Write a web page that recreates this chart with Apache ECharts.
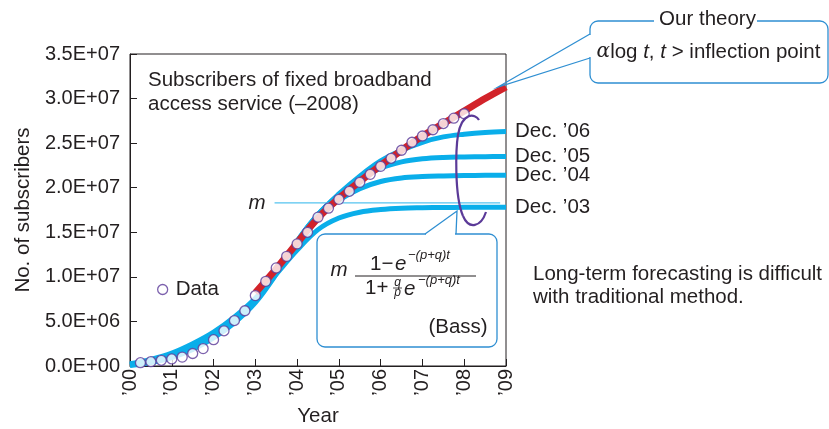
<!DOCTYPE html>
<html><head><meta charset="utf-8">
<script src="https://cdn.jsdelivr.net/npm/echarts@6/dist/echarts.min.js"></script>
<style>html,body{margin:0;padding:0;background:#fff}#c{width:829px;height:429px}</style>
</head><body><div id="c"></div>
<script>
// ---- data (values in millions of subscribers) ----
const yearLabels = ['’00','’01','’02','’03','’04','’05','’06','’07','’08','’09'];
const dataT = [0.25,0.5,0.75,1,1.25,1.5,1.75,2,2.25,2.5,2.75,3,3.25,3.5,3.75,4,4.25,4.5,4.75,5,5.25,5.5,5.75,6,6.25,6.5,6.75,7,7.25,7.5,7.75,8];
const dataV = [0.37,0.48,0.64,0.79,1.0,1.4,1.95,2.95,3.95,5.1,6.2,7.9,9.5,11.0,12.3,13.7,15.0,16.7,17.7,18.7,19.6,20.6,21.5,22.4,23.3,24.2,25.1,25.8,26.5,27.2,27.8,28.3];
const bassT = [0,0.5,1,1.5,2,2.5,3,3.5,4,4.5,5,5.5,6,6.5,7,7.5,8,8.5,9];
const bass03 = [0.25,0.75,1.45,2.5,3.8,5.5,7.6,10.3,13.0,15.3,16.6,17.25,17.55,17.7,17.75,17.78,17.8,17.81,17.82];
const bass04 = [0.15,0.6,1.25,2.25,3.55,5.25,7.4,10.4,13.9,16.7,18.6,19.9,20.7,21.1,21.25,21.32,21.37,21.39,21.4];
const bass05 = [0.1,0.5,1.1,2.05,3.35,5.05,7.25,10.4,14.0,17.0,19.2,21.0,22.2,22.9,23.25,23.4,23.45,23.48,23.5];
const bass06 = [0.05,0.4,0.95,1.85,3.15,4.85,7.1,10.3,14.0,17.0,19.3,21.3,23.0,24.2,25.1,25.7,26.0,26.2,26.3];
const theoryT = [3,3.5,4,4.5,5,5.5,6,6.5,7,7.5,8,8.5,9];
const theoryV = [8.2,10.9,13.8,16.6,18.8,20.7,22.5,24.2,25.8,27.2,28.6,30.0,31.3];
const mT = [3.46, 8.86];
const mV = [18.3, 18.3];
const curveNames = ['Dec. ’03','Dec. ’04','Dec. ’05','Dec. ’06'];

const M = 1e6;
const pairs = (ts, vs) => ts.map((t, i) => [t, vs[i] * M]);

const FONT = '"Liberation Sans", Arial, Helvetica, sans-serif';
const TXT = '#231f20';
const BLUE = '#0aaeea';
const RED = '#d2232a';
const PURPLE = '#5b3a98';
const CALL = '#2f8fd2';

function sci(v) {
  const parts = v.toExponential(1).split('e');
  const sign = parts[1][0];
  const d = parts[1].slice(1).padStart(2, '0');
  return parts[0] + 'E' + sign + d;
}

const bassSeries = [bass03, bass04, bass05, bass06].map((arr, i) => ({
  name: curveNames[i], type: 'line', data: pairs(bassT, arr),
  showSymbol: false, smooth: 0.35, z: 2,
  lineStyle: { color: BLUE, width: 5 }, itemStyle: { color: BLUE },
  endLabel: { show: true, formatter: '{a}', distance: 9, fontSize: 20.5, color: TXT, fontFamily: FONT },
  emphasis: { disabled: true }, silent: true
}));

const chart = echarts.init(document.getElementById('c'), null, { renderer: 'canvas' });
const txt = (text, x, y, opt) => Object.assign({ type: 'text', silent: true, z: 20,
  style: Object.assign({ text, x, y, font: '20.5px ' + FONT, fill: TXT, textAlign: 'left', textVerticalAlign: 'middle', align: 'left', verticalAlign: 'middle' }, opt || {}) });
const ctr = { textAlign: 'center', align: 'center' };

chart.setOption({
  animation: false,
  backgroundColor: '#fff',
  grid: { left: 130, right: 323, top: 54, bottom: 63, containLabel: false, outerBoundsMode: 'none',
    show: true, borderColor: TXT, borderWidth: 1, backgroundColor: 'transparent' },
  legend: {
    data: [{ name: 'Data', icon: 'circle', itemStyle: { color: '#fff', borderColor: PURPLE, borderWidth: 1.3 } }],
    left: 152, top: 274, itemWidth: 16, itemHeight: 10,
    textStyle: { fontSize: 20.5, color: TXT, fontFamily: FONT }, selectedMode: false
  },
  xAxis: {
    type: 'value', min: 0, max: 9, interval: 1,
    name: 'Year', nameLocation: 'middle', nameGap: 40,
    nameTextStyle: { fontSize: 20.5, color: TXT, fontFamily: FONT },
    axisLine: { show: true, lineStyle: { color: TXT, width: 1 } },
    axisTick: { show: true, inside: true, length: 7, lineStyle: { color: TXT } },
    axisLabel: { rotate: 90, margin: 3, fontSize: 20, color: TXT, fontFamily: FONT, formatter: v => yearLabels[Math.round(v)] },
    splitLine: { show: false }
  },
  yAxis: {
    type: 'value', min: 0, max: 3.5e7, interval: 5e6,
    name: 'No. of subscribers', nameLocation: 'middle', nameGap: 96,
    nameTextStyle: { fontSize: 20.5, color: TXT, fontFamily: FONT },
    axisLine: { show: true, lineStyle: { color: TXT, width: 1 } },
    axisTick: { show: true, inside: true, length: 7, lineStyle: { color: TXT } },
    axisLabel: { margin: 10, fontSize: 20, color: TXT, fontFamily: FONT, formatter: v => sci(v) },
    splitLine: { show: false }
  },
  series: bassSeries.concat([
    { name: 'm', type: 'line', data: pairs(mT, mV), showSymbol: false, z: 2, silent: true,
      lineStyle: { color: '#55c3ef', width: 1.2 }, emphasis: { disabled: true } },
    { name: 'Our theory', type: 'line', data: pairs(theoryT, theoryV), showSymbol: false, smooth: 0.35, z: 3, silent: true,
      lineStyle: { color: RED, width: 7 }, itemStyle: { color: RED }, emphasis: { disabled: true } },
    { name: 'Data', type: 'scatter', data: pairs(dataT, dataV), symbol: 'circle', symbolSize: 10, z: 4, silent: true,
      itemStyle: { color: '#fff', borderColor: PURPLE, borderWidth: 1.3 }, emphasis: { disabled: true } }
  ]),
  graphic: [
    txt('Subscribers of fixed broadband', 148, 80),
    txt('access service (–2008)', 148, 104),
    txt('m', 257, 203, Object.assign({ font: 'italic 20.5px ' + FONT }, ctr)),
    // Bass callout
    { type: 'rect', silent: true, z: 10, shape: { x: 317, y: 234, width: 180, height: 113, r: 8 }, style: { fill: '#fff', stroke: CALL, lineWidth: 1.3 } },
    { type: 'rect', silent: true, z: 11, shape: { x: 426, y: 231, width: 29, height: 6 }, style: { fill: '#fff', stroke: null } },
    { type: 'polyline', silent: true, z: 12, shape: { points: [[425, 234], [457, 211], [456, 234]] }, style: { fill: null, stroke: CALL, lineWidth: 1.3 } },
    txt('m', 339, 270, Object.assign({ font: 'italic 20.5px ' + FONT }, ctr)),
    txt('1−', 370, 264),
    txt('e', 395, 264, { font: 'italic 20.5px ' + FONT }),
    txt('−(p+q)t', 408, 255, { font: 'italic 13px ' + FONT }),
    { type: 'line', silent: true, z: 12, shape: { x1: 355, y1: 276, x2: 476, y2: 276 }, style: { stroke: TXT, lineWidth: 1 } },
    txt('1+', 365, 288),
    txt('q', 397.5, 283, Object.assign({ font: 'italic 12px ' + FONT }, ctr)),
    { type: 'line', silent: true, z: 12, shape: { x1: 393, y1: 288, x2: 402, y2: 288 }, style: { stroke: TXT, lineWidth: 0.8 } },
    txt('p', 397.5, 293, Object.assign({ font: 'italic 12px ' + FONT }, ctr)),
    txt('e', 404, 289, { font: 'italic 20.5px ' + FONT }),
    txt('−(p+q)t', 418, 280, { font: 'italic 13px ' + FONT }),
    txt('(Bass)', 458, 327.5, ctr),
    // Our theory callout
    { type: 'rect', silent: true, z: 10, shape: { x: 590, y: 21, width: 238, height: 62, r: 8 }, style: { fill: 'none', stroke: CALL, lineWidth: 1.3 } },
    { type: 'rect', silent: true, z: 11, shape: { x: 654, y: 18, width: 103, height: 6 }, style: { fill: '#fff', stroke: null } },
    { type: 'rect', silent: true, z: 11, shape: { x: 587, y: 35, width: 6, height: 22 }, style: { fill: '#fff', stroke: null } },
    { type: 'polyline', silent: true, z: 12, shape: { points: [[590, 34], [498, 87], [590, 58]] }, style: { fill: null, stroke: CALL, lineWidth: 1.3 } },
    txt('Our theory', 707.5, 19.5, ctr),
    { type: 'text', silent: true, z: 20, style: {
      text: '{a|α}log {i|t}, {i|t} > inflection point', x: 708.5, y: 52,
      font: '20.5px ' + FONT, fill: TXT, textAlign: 'center', align: 'center', textVerticalAlign: 'middle', verticalAlign: 'middle',
      rich: { a: { fontFamily: '"DejaVu Serif", serif', fontStyle: 'italic', fontSize: 20, fill: TXT, color: TXT }, i: { fontStyle: 'italic', fontSize: 20.5, fontFamily: FONT, fill: TXT, color: TXT } }
    } },
    // purple ellipse
    { type: 'bezierCurve', silent: true, z: 15, shape: { x1: 479, y1: 120, cpx1: 475, cpy1: 113, cpx2: 462, cpy2: 112, x2: 458, y2: 135 }, style: { fill: null, stroke: PURPLE, lineWidth: 2.2 } },
    { type: 'bezierCurve', silent: true, z: 15, shape: { x1: 458, y1: 135, cpx1: 456, cpy1: 147, cpx2: 454, cpy2: 195, x2: 463, y2: 216 }, style: { fill: null, stroke: PURPLE, lineWidth: 2.2 } },
    { type: 'bezierCurve', silent: true, z: 15, shape: { x1: 463, y1: 216, cpx1: 469, cpy1: 230, cpx2: 481, cpy2: 227, x2: 486, y2: 212 }, style: { fill: null, stroke: PURPLE, lineWidth: 2.2 } },
    txt('Long-term forecasting is difficult', 533, 274),
    txt('with traditional method.', 533, 297)
  ]
});
</script></body></html>
